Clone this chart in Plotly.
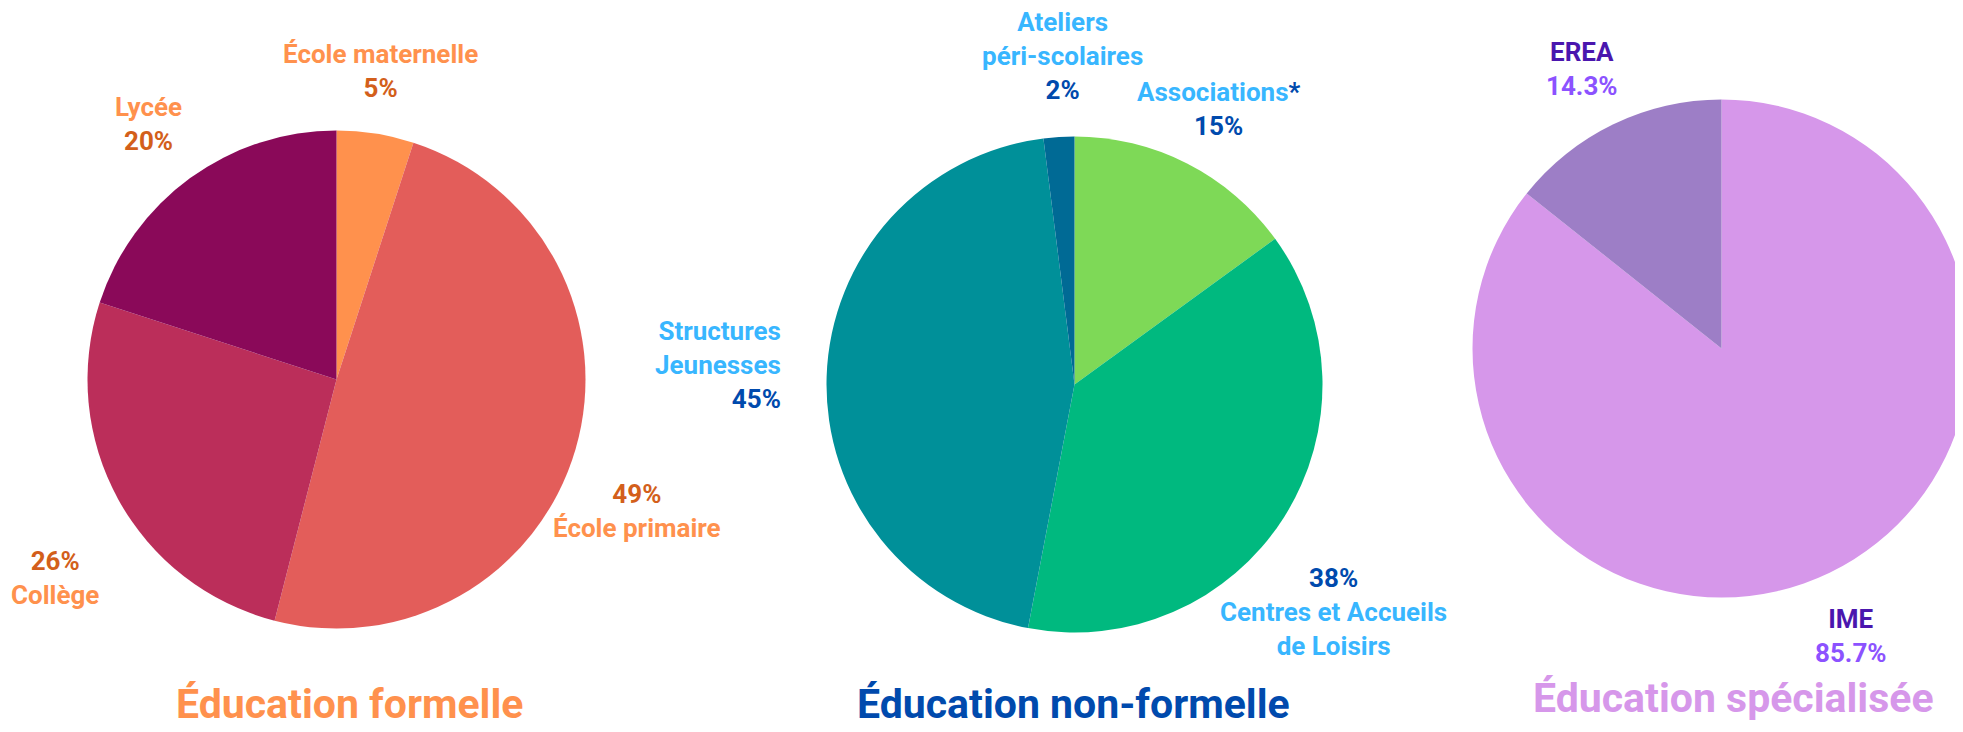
import plotly.graph_objects as go

W, H = 1963, 732
OFF = 7.5  # page offset compensation
FONT = "Roboto, Liberation Sans Narrow, DejaVu Sans Condensed, sans-serif"

# ---- data ----
formal_labels = ["École maternelle", "École primaire", "Collège", "Lycée"]
formal_values = [5, 49, 26, 20]
formal_colors = ["#FF914D", "#E35D5A", "#BB2E5A", "#8A0959"]

nonformal_labels = ["Associations", "Centres et Accueils<br>de Loisirs", "Structures<br>Jeunesses", "Ateliers<br>péri-scolaires"]
nonformal_values = [15, 38, 45, 2]
nonformal_colors = ["#7ED957", "#00B97F", "#009099", "#006A95"]

special_labels = ["IME", "EREA"]
special_values = [85.7, 14.3]
special_colors = ["#D697EA", "#9D7EC6"]

titles = ["Éducation formelle", "Éducation non-formelle", "Éducation spécialisée"]
title_colors = ["#FF914D", "#004AAD", "#D697EA"]

# label styling per chart: (name colour, percentage colour)
formal_text = ("#FF914D", "#D35F1B")
nonformal_text = ("#38B6FF", "#004AAD")
special_text = ("#4A16AE", "#8C52FF")


def px(x, y):
    return (x - OFF) / W, 1 - (y - OFF) / H


def dom(cx, cy, r):
    x0, y1 = px(cx - r, cy - r)
    x1, y0 = px(cx + r, cy + r)
    return dict(x=[max(0, x0), min(1, x1)], y=[max(0, y0), min(1, y1)])


fig = go.Figure()
for labels, values, colors, d in [
    (formal_labels, formal_values, formal_colors, dom(336, 379, 249)),
    (nonformal_labels, nonformal_values, nonformal_colors, dom(1074, 384, 248)),
    (special_labels, special_values, special_colors, dom(1721, 348, 249)),
]:
    fig.add_trace(go.Pie(
        labels=labels, values=values, sort=False, direction="clockwise", rotation=0,
        marker=dict(colors=colors, line=dict(width=0)), textinfo="none",
        hoverinfo="label+percent", domain=d, showlegend=False,
    ))

annotations = []
LBL = 26


def fmt(v):
    return f"{v:g}%"


def block(name, value, colors, pos, pct_first=False, align="center", xanchor="center", star=False):
    nc, pc = colors
    name_html = f"<span style='color:{nc}'>{name}</span>"
    if star:
        name_html += f"<span style='color:{pc}'>*</span>"
    pct_html = f"<span style='color:{pc}'>{fmt(value)}</span>"
    text = pct_html + "<br>" + name_html if pct_first else name_html + "<br>" + pct_html
    x, y = px(*pos)
    annotations.append(dict(text=text, x=x, y=y, xref="paper", yref="paper", showarrow=False,
                            xanchor=xanchor, yanchor="middle", align=align,
                            font=dict(family=FONT, size=LBL, color=nc, weight="bold")))


# formal
block(formal_labels[0], formal_values[0], formal_text, (380, 70))
block(formal_labels[1], formal_values[1], formal_text, (636, 510), pct_first=True)
block(formal_labels[2], formal_values[2], formal_text, (54, 577), pct_first=True)
block(formal_labels[3], formal_values[3], formal_text, (148, 123))
# non-formal
block(nonformal_labels[0], nonformal_values[0], nonformal_text, (1218, 108), star=True)
block(nonformal_labels[1], nonformal_values[1], nonformal_text, (1333, 611), pct_first=True)
block(nonformal_labels[2], nonformal_values[2], nonformal_text, (782, 364), align="right", xanchor="right")
block(nonformal_labels[3], nonformal_values[3], nonformal_text, (1062, 56))
# special
block(special_labels[0], special_values[0], special_text, (1850, 635))
block(special_labels[1], special_values[1], special_text, (1581, 68))

for t, c, pos in zip(titles, title_colors, [(349, 703), (1073, 703), (1733, 697)]):
    x, y = px(*pos)
    annotations.append(dict(text=t, x=x, y=y, xref="paper", yref="paper", showarrow=False,
                            xanchor="center", yanchor="middle",
                            font=dict(family=FONT, size=41, color=c, weight="bold")))

fig.update_layout(
    width=W, height=H, margin=dict(l=0, r=0, t=0, b=0),
    paper_bgcolor="white", plot_bgcolor="white",
    annotations=annotations,
)

fig.write_html("out.html")
